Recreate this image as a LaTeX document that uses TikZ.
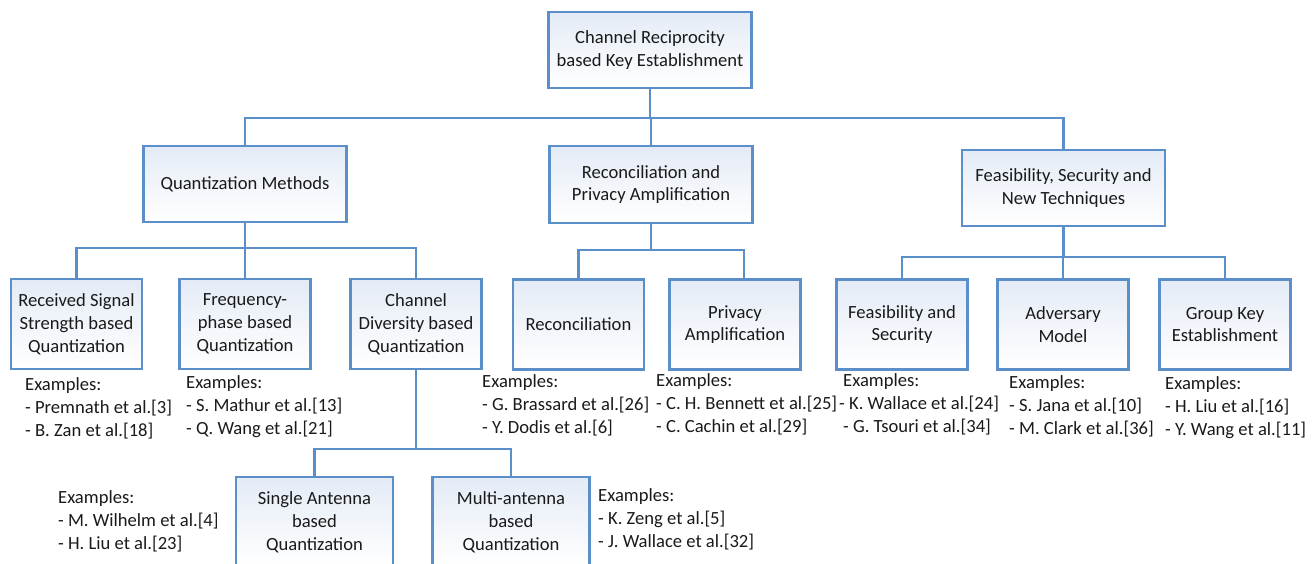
\documentclass[tikz,border=0pt]{standalone}
\usepackage{fontspec}
\setmainfont{Carlito}
\definecolor{edgeblue}{HTML}{5B8FC9}
\definecolor{topfill}{HTML}{E4EBF6}
\definecolor{txt}{HTML}{1A1A1A}
\tikzset{
  box/.style={draw=edgeblue, line width=2.4pt, top color=topfill, bottom color=white,
    align=center, inner sep=0pt, text=txt, font=\fontsize{18.6}{22.8}\selectfont},
  bigbox/.style={box, minimum width=203pt, minimum height=76pt},
  smallbox/.style={box, minimum width=131pt, minimum height=90pt},
  conn/.style={draw=edgeblue, line width=2.4pt},
  ex/.style={anchor=west, align=left, inner sep=0pt, text=txt, font=\fontsize{18.6}{23}\selectfont}
}
\begin{document}
\begin{tikzpicture}[x=1pt,y=-1pt]
\clip (0,0) rectangle (1312,564);
\fill[white] (0,0) rectangle (1312,564);
% level 1
\node[bigbox] (root) at (650,50) {Channel Reciprocity\\based Key Establishment};
% level 2
\node[bigbox] (qm) at (245,184) {Quantization Methods};
\node[bigbox, minimum height=77pt] (rpa) at (651,184.5) {Reconciliation and\\Privacy Amplification};
\node[bigbox] (fst) at (1063.5,188) {Feasibility, Security and\\New Techniques};
% level 3
\node[smallbox] (rss) at (76.5,324) {Received Signal\\Strength based\\Quantization};
\node[smallbox] (fpq) at (245,324) {Frequency-\\phase based\\Quantization};
\node[smallbox] (cdq) at (416,324) {Channel\\Diversity based\\Quantization};
\node[smallbox] (rec) at (578.5,324.5) {Reconciliation};
\node[smallbox] (pa) at (735,324.5) {Privacy\\Amplification};
\node[smallbox] (fs) at (902,324.5) {Feasibility and\\Security};
\node[smallbox] (adv) at (1063,324.5) {Adversary\\Model};
\node[smallbox] (gk) at (1225,324.5) {Group Key\\Establishment};
% level 4
\node[box, minimum width=157pt, minimum height=90pt] (sa) at (314.5,522) {Single Antenna\\based\\Quantization};
\node[box, minimum width=157pt, minimum height=90pt] (ma) at (511,522) {Multi-antenna\\based\\Quantization};
% connectors
\draw[conn] (root.south) -- (root.south |- 0,118);
\draw[conn] (qm.north) -- (qm.north |- 0,118) -- (fst.north |- 0,118) -- (fst.north);
\draw[conn] (rpa.north) -- (rpa.north |- 0,118);
\draw[conn] (qm.south) -- (qm.south |- 0,248);
\draw[conn] (rss.north) -- (rss.north |- 0,248) -- (cdq.north |- 0,248) -- (cdq.north);
\draw[conn] (fpq.north) -- (fpq.north |- 0,248);
\draw[conn] (rpa.south) -- (rpa.south |- 0,250);
\draw[conn] (rec.north) -- (rec.north |- 0,250) -- ([xshift=9pt]pa.north |- 0,250) -- ([xshift=9pt]pa.north);
\draw[conn] (fst.south) -- (fst.south |- 0,257);
\draw[conn] (fs.north) -- (fs.north |- 0,257) -- (gk.north |- 0,257) -- (gk.north);
\draw[conn] (adv.north) -- (adv.north |- 0,257);
\draw[conn] (cdq.south) -- (cdq.south |- 0,449);
\draw[conn] (sa.north) -- (sa.north |- 0,449) -- (ma.north |- 0,449) -- (ma.north);
% examples
\node[ex] (e1) at (25,408) {Examples:\\- Premnath et al.[3]\\- B. Zan et al.[18]};
\node[ex] (e2) at (186,407) {Examples:\\- S. Mathur et al.[13]\\- Q. Wang et al.[21]};
\node[ex] (e3) at (482,405) {Examples:\\- G. Brassard et al.[26]\\- Y. Dodis et al.[6]};
\node[ex] (e4) at (656,404) {Examples:\\- C. H. Bennett et al.[25]\\- C. Cachin et al.[29]};
\node[ex] (e5) at (843,404) {Examples:\\\hspace*{-4pt}- K. Wallace et al.[24]\\- G. Tsouri et al.[34]};
\node[ex] (e6) at (1009,406) {Examples:\\- S. Jana et al.[10]\\- M. Clark et al.[36]};
\node[ex] (e7) at (1165,408) {Examples:\\- H. Liu et al.[16]\\- Y. Wang et al.[11]};
\node[ex] (e8) at (58,521) {Examples:\\- M. Wilhelm et al.[4]\\- H. Liu et al.[23]};
\node[ex] (e9) at (598,519) {Examples:\\- K. Zeng et al.[5]\\- J. Wallace et al.[32]};
\end{tikzpicture}
\end{document}
